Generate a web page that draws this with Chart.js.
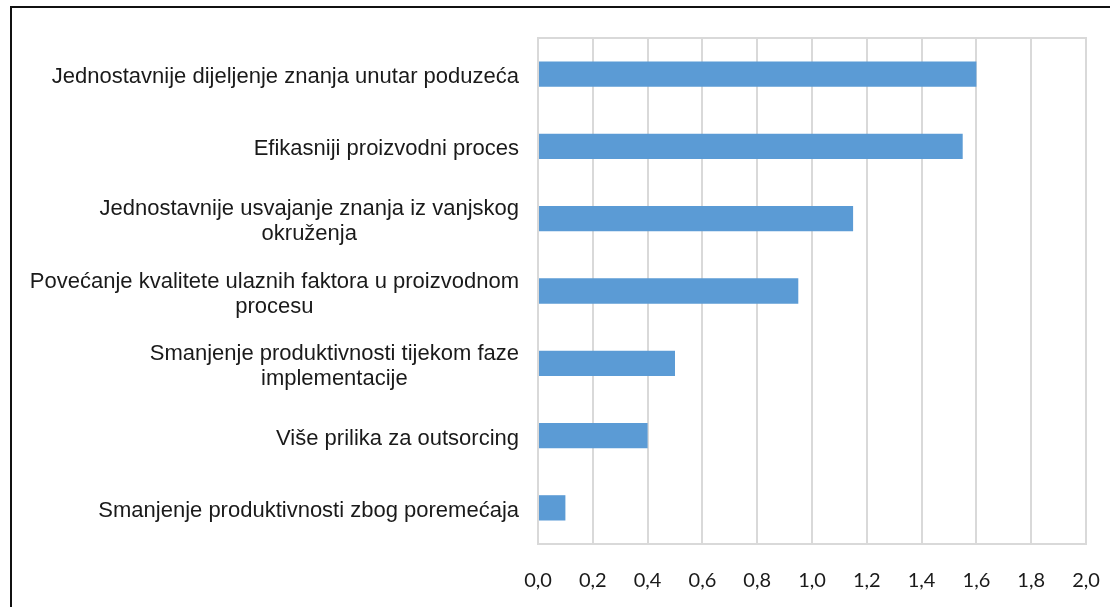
<html>
<head>
<meta charset="utf-8">
<style>
  body { margin: 0; overflow: hidden; background: #fff; }
  #wrap { position: relative; width: 1110px; height: 607px; }
  #frame { position: absolute; left: 10px; top: 6px; width: 1200px; height: 700px; border: 2px solid #111; }
</style>
</head>
<body>
<div id="wrap">
  <div id="frame"></div>
  <canvas id="myChart"></canvas>
</div>
<script src="https://cdn.jsdelivr.net/npm/chart.js@4.4.0/dist/chart.umd.min.js"></script>
<script>
const categories = [
  ["Jednostavnije dijeljenje znanja unutar poduzeća"],
  ["Efikasniji proizvodni proces"],
  ["Jednostavnije usvajanje znanja iz vanjskog", "okruženja"],
  ["Povećanje kvalitete ulaznih faktora u proizvodnom", "procesu"],
  ["Smanjenje produktivnosti tijekom faze", "implementacije"],
  ["Više prilika za outsorcing"],
  ["Smanjenje produktivnosti zbog poremećaja"]
];
const values = [1.6, 1.55, 1.15, 0.95, 0.5, 0.4, 0.1];
const tickStep = 0.2;
const tickMax = 2.0;

// y labels: block right-aligned, lines centred within the block
const labelPlugin = {
  id: "labels",
  afterDraw(chart) {
    const ctx = chart.ctx;
    const y = chart.scales.y;
    const area = chart.chartArea;
    ctx.save();
    // top border of plot area
    ctx.strokeStyle = "#D9D9D9";
    ctx.lineWidth = 2;
    ctx.beginPath();
    ctx.moveTo(area.left - 1, area.top);
    ctx.lineTo(area.right + 1, area.top);
    ctx.stroke();

    ctx.font = "22px 'Liberation Sans', Arial, sans-serif";
    ctx.fillStyle = "#1a1a1a";
    ctx.textAlign = "center";
    ctx.textBaseline = "middle";
    const lh = 25;
    const rightX = area.left - 19;
    categories.forEach((lines, i) => {
      const cy = y.getPixelForTick(i) + 3;
      const w = Math.max(...lines.map(l => ctx.measureText(l).width));
      const cx = rightX - w / 2;
      const y0 = cy - (lines.length - 1) * lh / 2;
      lines.forEach((l, k) => ctx.fillText(l, cx, y0 + k * lh));
    });
    ctx.restore();
  }
};

new Chart("myChart", {
  type: "bar",
  data: {
    labels: categories,
    datasets: [{
      data: values,
      backgroundColor: "#5B9BD5",
      barPercentage: 0.35,
      categoryPercentage: 1
    }]
  },
  options: {
    indexAxis: "y",
    responsive: true,
    maintainAspectRatio: false,
    animation: false,
    layout: { padding: { left: 0, top: 38, right: 24, bottom: 0 } },
    plugins: { legend: { display: false }, tooltip: { enabled: false } },
    scales: {
      x: {
        min: 0,
        max: tickMax,
        ticks: {
          stepSize: tickStep,
          padding: 25,
          color: "#1a1a1a",
          font: { family: "Lato", size: 20 },
          callback: v => v.toFixed(1).replace(".", ",")
        },
        grid: { color: "#D9D9D9", lineWidth: 2, drawTicks: false },
        border: { color: "#D9D9D9", width: 2 },
        afterFit: s => { s.height = 63; s.paddingLeft = 0; s.paddingRight = 0; }
      },
      y: {
        ticks: { display: false },
        grid: { display: false },
        border: { color: "#D9D9D9", width: 2 },
        afterFit: s => { s.width = 538; }
      }
    }
  },
  plugins: [labelPlugin]
});
</script>
</body>
</html>
